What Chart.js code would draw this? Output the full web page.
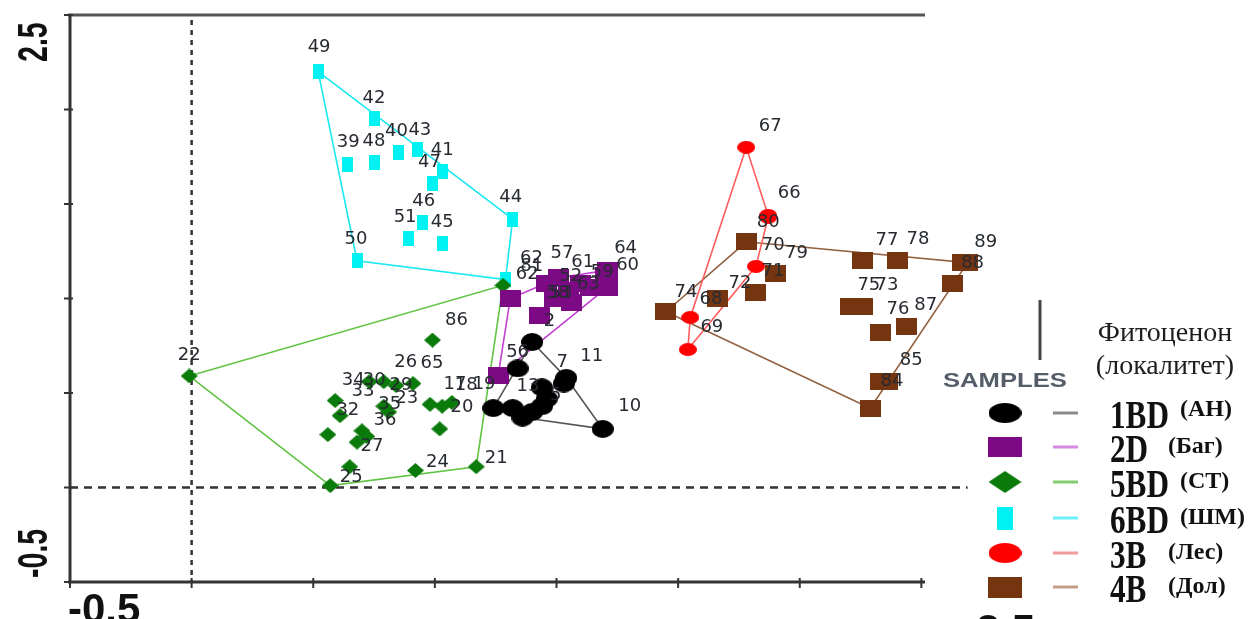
<!DOCTYPE html>
<html>
<head>
<meta charset="utf-8">
<script src="https://cdn.jsdelivr.net/npm/chart.js@4.4.1/dist/chart.umd.min.js"></script>
<style>
  html, body { margin: 0; padding: 0; background: #fff; }
  canvas { display: block; }
</style>
</head>
<body>
<canvas id="ord" width="1248" height="619"></canvas>
<script>
// ---- Ordination scores of the samples, one block per phytocoenosis ----
const xTicks = [-0.5, 0, 0.5, 1, 1.5, 2, 2.5, 3];
const yTicks = [-0.5, 0, 0.5, 1, 1.5, 2, 2.5];

// 1BD (АН)
const an1X   = [1.40, 1.34, 1.54, 1.53, 1.44, 1.24, 1.32, 1.36, 1.40, 1.44, 1.46, 1.69];
const an1Y   = [0.77, 0.63, 0.58, 0.55, 0.53, 0.42, 0.42, 0.37, 0.40, 0.43, 0.47, 0.31];
const an1Ids = ['', '56', '7', '11', '13', '', '', '', '', '', '5', '10'];

// 2D (Баг)
const bag2X   = [1.31, 1.43, 1.46, 1.51, 1.49, 1.55, 1.60, 1.56, 1.64, 1.70, 1.71, 1.71, 1.26];
const bag2Y   = [1.00, 0.91, 1.08, 1.11, 1.00, 1.04, 1.08, 0.98, 1.06, 1.12, 1.06, 1.15, 0.59];
const bag2Ids = ['62', '2', '81', '57', '58', '52', '61', '53', '63', '59', '60', '64', '19'];

// 5BD (СТ)
const st5X   = [-0.01, 1.28, 0.99, 0.59, 0.61, 0.56, 0.79, 0.91, 0.73, 0.84, 0.79, 0.81,
                0.70, 0.72, 0.68, 0.98, 1.03, 1.07, 1.02, 0.65, 0.57, 0.92, 1.17];
const st5Y   = [0.59, 1.07, 0.78, 0.46, 0.38, 0.28, 0.56, 0.55, 0.56, 0.54, 0.43, 0.40,
                0.30, 0.27, 0.24, 0.44, 0.43, 0.45, 0.31, 0.11, 0.01, 0.09, 0.11];
const st5Ids = ['22', '', '86', '34', '33', '32', '26', '65', '30', '29', '35', '23',
                '36', '', '27', '17', '18', '20', '', '', '25', '24', '21'];

// 6BD (ШМ)
const shm6X   = [0.52, 0.75, 0.64, 0.75, 0.85, 0.93, 1.03, 0.99, 0.95, 0.89, 1.03, 1.32, 0.68, 1.29];
const shm6Y   = [2.20, 1.95, 1.71, 1.72, 1.77, 1.79, 1.67, 1.61, 1.40, 1.32, 1.29, 1.42, 1.20, 1.10];
const shm6Ids = ['49', '42', '39', '48', '40', '43', '41', '47', '46', '51', '45', '44', '50', '62'];

// 3B (Лес)
const les3X   = [2.28, 2.37, 2.37, 2.32, 2.05, 2.04];
const les3Y   = [1.80, 1.44, 1.43, 1.17, 0.90, 0.73];
const les3Ids = ['67', '66', '80', '71', '', '69'];

// 4B (Дол)
const dol4X   = [2.28, 2.40, 2.32, 2.16, 1.95, 2.76, 2.90, 3.17, 3.19, 3.13, 2.71, 2.76, 2.83, 2.94, 2.83, 2.86, 2.79];
const dol4Y   = [1.30, 1.13, 1.03, 1.00, 0.93, 1.20, 1.20, 1.19, 1.19, 1.08, 0.96, 0.96, 0.82, 0.85, 0.56, 0.56, 0.42];
const dol4Ids = ['70', '79', '72', '68', '74', '77', '78', '89', '88', '', '75', '73', '76', '87', '84', '85', ''];

const keyNames = ['1BD', '2D', '5BD', '6BD', '3B', '4B'];
const keySubs  = ['(АН)', '(Баг)', '(СТ)', '(ШМ)', '(Лес)', '(Дол)'];

// ---- Label placement (pixel nudges from each marker) ----
const U = [0, -21];
const an1Nudge  = [[0,0],[0,-16],[-4,-16],[28,-27],[-14,-1],[0,0],[0,0],[0,0],[0,0],[0,0],[9,-3],[27,-23]];
const bag2Nudge = [[17,-24],[10,6],[-15,-17],[3,-24],[4,-5],[2,-15],[2,-21],[-10,-9],[-2,-3],[-3,-3],[20,-22],[18,-22],[-14,8]];
const st5Nudge  = [U,U,[24,-20],[18,-20],[23,-24],[20,-24],[22,-19],[19,-20],[5,-1],[5,0],[6,-2],[18,-14],
                   [23,-10],[0,0],[15,4],[25,-20],[24,-21],[10,5],[0,0],[0,0],[21,-8],[22,-8],[20,-8]];
const shm6Nudge = [[1,-24],U,[1,-22],U,[-2,-22],[2,-19],[0,-22],[-3,-21],[1,-22],[-3,-21],U,[-2,-22],[-1,-21],[26,-21]];
const les3Nudge = [[24,-21],[21,-22],[0,5],[17,5],[0,0],[24,-22]];
const dol4Nudge = [[27,4],[21,-21],[-16,-10],[-6,1],[20,-19],[24,-20],[21,-21],[23,-20],[5,1],[0,0],
                   [18,-21],[24,-21],[18,-23],[19,-22],[12,0],[24,-21],[0,0]];

// ---- Marker sprites ----
function sprite(shape, w, h, color) {
  const c = document.createElement('canvas');
  c.width = w; c.height = h;
  const g = c.getContext('2d');
  g.fillStyle = color;
  g.beginPath();
  if (shape === 'ellipse') {
    g.ellipse(w / 2, h / 2, w / 2, h / 2, 0, 0, Math.PI * 2);
  } else if (shape === 'diamond') {
    g.moveTo(w / 2, 0); g.lineTo(w, h / 2); g.lineTo(w / 2, h); g.lineTo(0, h / 2); g.closePath();
  } else {
    g.rect(0, 0, w, h);
  }
  g.fill();
  return c;
}

const groups = [
  { xs: an1X,  ys: an1Y,  ids: an1Ids,  nudge: an1Nudge,  fill: '#000000', hull: '#555555', key: '#8a8a8a',
    shape: 'ellipse', w: 22, h: 18, kw: 33, kh: 20 },
  { xs: bag2X, ys: bag2Y, ids: bag2Ids, nudge: bag2Nudge, fill: '#7d0a85', hull: '#c23fd0', key: '#d58ae2',
    shape: 'rect', w: 21, h: 17, kw: 34, kh: 20 },
  { xs: st5X,  ys: st5Y,  ids: st5Ids,  nudge: st5Nudge,  fill: '#0a7a0a', hull: '#62c444', key: '#86cc72',
    shape: 'diamond', w: 17, h: 15, kw: 33, kh: 22 },
  { xs: shm6X, ys: shm6Y, ids: shm6Ids, nudge: shm6Nudge, fill: '#00f2f2', hull: '#1ae8f0', key: '#6ef0fa',
    shape: 'rect', w: 11, h: 15, kw: 16, kh: 23 },
  { xs: les3X, ys: les3Y, ids: les3Ids, nudge: les3Nudge, fill: '#ff0000', hull: '#ff5c5c', key: '#f29a9a',
    shape: 'ellipse', w: 18, h: 13, kw: 33, kh: 20 },
  { xs: dol4X, ys: dol4Y, ids: dol4Ids, nudge: dol4Nudge, fill: '#753510', hull: '#91603f', key: '#c29d88',
    shape: 'rect', w: 21, h: 17, kw: 34, kh: 21 }
];

// Monotone-chain convex hull, closed (first point repeated)
function hull(points) {
  const p = points.slice().sort((a, b) => a.x - b.x || a.y - b.y);
  const cross = (o, a, b) => (a.x - o.x) * (b.y - o.y) - (a.y - o.y) * (b.x - o.x);
  const lower = [], upper = [];
  for (const q of p) {
    while (lower.length >= 2 && cross(lower[lower.length - 2], lower[lower.length - 1], q) <= 0) lower.pop();
    lower.push(q);
  }
  for (let i = p.length - 1; i >= 0; i--) {
    const q = p[i];
    while (upper.length >= 2 && cross(upper[upper.length - 2], upper[upper.length - 1], q) <= 0) upper.pop();
    upper.push(q);
  }
  const h = lower.slice(0, -1).concat(upper.slice(0, -1));
  h.push(h[0]);
  return h;
}

const datasets = [];
const pointSets = [];
groups.forEach((g, gi) => {
  const pts = g.xs.map((x, i) => ({ x: x, y: g.ys[i] }));
  datasets.push({
    data: hull(pts), showLine: true, borderColor: g.hull, borderWidth: 1.6,
    pointRadius: 0, fill: false, tension: 0, order: 2, clip: false
  });
  pointSets.push(datasets.length);
  datasets.push({
    data: pts, showLine: false, pointStyle: sprite(g.shape, g.w, g.h, g.fill),
    pointRadius: 6, order: 1, clip: false
  });
});

// Axes frame, zero lines, ticks
const framePlugin = {
  id: 'frame',
  beforeDatasetsDraw(chart) {
    const c = chart.ctx, xs = chart.scales.x, ys = chart.scales.y;
    const left = xs.getPixelForValue(-0.5), axisEnd = xs.getPixelForValue(3.015);
    const top = ys.getPixelForValue(2.5), bottom = ys.getPixelForValue(-0.5);
    c.save();
    // zero lines
    c.strokeStyle = '#333'; c.lineWidth = 2.5;
    c.setLineDash([5, 5]);
    c.beginPath();
    c.moveTo(xs.getPixelForValue(0), top + 5); c.lineTo(xs.getPixelForValue(0), bottom);
    c.stroke();
    c.setLineDash([8, 6]);
    c.beginPath();
    c.moveTo(left, ys.getPixelForValue(0)); c.lineTo(xs.getPixelForValue(3.19), ys.getPixelForValue(0));
    c.stroke();
    c.setLineDash([]);
    // frame
    c.strokeStyle = '#555'; c.lineWidth = 3;
    c.beginPath(); c.moveTo(left - 2, top); c.lineTo(axisEnd, top); c.stroke();
    c.strokeStyle = '#333';
    c.beginPath(); c.moveTo(left, top); c.lineTo(left, bottom); c.stroke();
    c.beginPath(); c.moveTo(left - 2, bottom); c.lineTo(axisEnd, bottom); c.stroke();
    // ticks
    c.lineWidth = 2;
    yTicks.forEach(v => {
      const y = ys.getPixelForValue(v);
      c.beginPath(); c.moveTo(left - 6, y); c.lineTo(left + 3, y); c.stroke();
    });
    xTicks.forEach(v => {
      const x = xs.getPixelForValue(v);
      c.beginPath(); c.moveTo(x, bottom - 4); c.lineTo(x, bottom + 6); c.stroke();
    });
    c.restore();
  },
  afterDraw(chart) {
    const c = chart.ctx, xs = chart.scales.x, ys = chart.scales.y;
    c.save();
    c.fillStyle = '#111';
    c.font = 'bold 42px "Liberation Sans", Arial, sans-serif';
    c.textBaseline = 'alphabetic';
    // y-axis end values, rotated
    const yLab = (txt, yStart) => {
      c.save();
      c.translate(47, yStart);
      c.rotate(-Math.PI / 2);
      c.scale(0.68, 1);
      c.textAlign = 'left';
      c.fillText(txt, 0, 0);
      c.restore();
    };
    yLab(String(yTicks[yTicks.length - 1]), ys.getPixelForValue(2.5) + 47);
    yLab(String(yTicks[0]), ys.getPixelForValue(-0.5) - 4);
    // x-axis end values
    c.textAlign = 'left';
    c.fillText(String(xTicks[0]), xs.getPixelForValue(-0.5) - 2, 623);
    c.textAlign = 'right';
    c.fillText('3.5', 1035, 644);
    c.restore();
  }
};

// Sample numbers next to markers
const labelPlugin = {
  id: 'sampleLabels',
  afterDatasetsDraw(chart) {
    const c = chart.ctx;
    c.save();
    c.font = '18px "DejaVu Sans", sans-serif';
    c.fillStyle = '#272b31';
    c.textAlign = 'center';
    c.textBaseline = 'middle';
    groups.forEach((g, gi) => {
      const meta = chart.getDatasetMeta(pointSets[gi]);
      meta.data.forEach((el, i) => {
        const id = g.ids[i];
        if (!id) return;
        const n = g.nudge[i];
        c.fillText(id, el.x + n[0], el.y + n[1]);
      });
    });
    c.restore();
  }
};

// Sample key on the right
const keyPlugin = {
  id: 'sampleKey',
  afterDraw(chart) {
    const c = chart.ctx;
    c.save();
    // bit of the outer frame
    c.strokeStyle = '#444'; c.lineWidth = 3;
    c.beginPath(); c.moveTo(1040, 300); c.lineTo(1040, 360); c.stroke();

    c.fillStyle = '#1e1e1e';
    c.font = '28px "Liberation Serif", "Times New Roman", serif';
    c.textAlign = 'center';
    c.textBaseline = 'alphabetic';
    c.fillText('Фитоценон', 1165, 341);
    c.fillText('(локалитет)', 1165, 374);

    c.save();
    c.fillStyle = '#555d6b';
    c.font = 'bold 21px "Liberation Sans", Arial, sans-serif';
    c.textAlign = 'left';
    c.translate(943, 387);
    c.scale(1.22, 1);
    c.fillText('SAMPLES', 0, 0);
    c.restore();

    const rowY = [413, 447, 482, 518, 553, 587];
    groups.forEach((g, i) => {
      const cy = rowY[i];
      const s = sprite(g.shape, g.kw, g.kh, g.fill);
      c.drawImage(s, 1005 - g.kw / 2, cy - g.kh / 2);
      c.strokeStyle = g.key; c.lineWidth = 3;
      c.beginPath(); c.moveTo(1053, cy); c.lineTo(1078, cy); c.stroke();

      c.fillStyle = '#111';
      c.textAlign = 'left';
      c.font = 'bold 40px "Liberation Serif", "Times New Roman", serif';
      const w = c.measureText(keyNames[i]).width * 0.78;
      c.save();
      c.translate(1110, cy + 15);
      c.scale(0.78, 1);
      c.fillText(keyNames[i], 0, 0);
      c.restore();
      c.font = 'bold 24px "Liberation Serif", "Times New Roman", serif';
      c.fillText(keySubs[i], Math.max(1168, 1110 + w + 11), cy + (i === 0 ? 3 : 6));
    });
    c.restore();
  }
};

new Chart(document.getElementById('ord'), {
  type: 'scatter',
  data: { datasets: datasets },
  options: {
    responsive: false,
    animation: false,
    devicePixelRatio: 1,
    events: [],
    layout: { padding: { left: 70, right: 205, top: 15, bottom: 37 } },
    scales: {
      x: { type: 'linear', min: -0.5, max: 3.5, display: false },
      y: { type: 'linear', min: -0.5, max: 2.5, display: false }
    },
    plugins: { legend: { display: false }, tooltip: { enabled: false } }
  },
  plugins: [framePlugin, labelPlugin, keyPlugin]
});
</script>
</body>
</html>
